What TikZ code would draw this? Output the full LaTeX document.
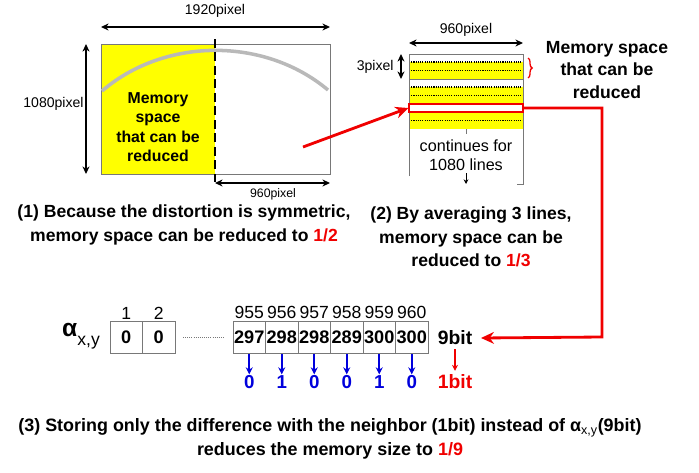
\documentclass[tikz,border=0pt]{standalone}
\usepackage{fontspec}
\setmainfont{Liberation Sans}
\usetikzlibrary{arrows.meta,positioning,calc,decorations.pathreplacing}

\definecolor{hlyellow}{RGB}{255,255,0}
\definecolor{hlred}{RGB}{240,0,0}
\definecolor{bitblue}{RGB}{0,0,220}
\definecolor{framegray}{RGB}{120,120,120}

\begin{document}
\begin{tikzpicture}[%
    x=0.03cm, y=-0.03cm,
    >=Stealth,
    dimarrow/.style={{Stealth[length=6.5pt,width=6pt]}-{Stealth[length=6.5pt,width=6pt]}, line width=0.9pt},
    redline/.style={-{Stealth[length=11pt,width=10pt]}, hlred, line width=2.4pt},
    bluearrow/.style={-{Stealth[length=6pt,width=6pt]}, bitblue, line width=1.5pt, shorten <=1pt},
    lbl/.style={font=\fontsize{12}{14}\selectfont, inner sep=1pt},
    caption/.style={font=\fontsize{15}{20}\selectfont\bfseries, align=center},
    cell/.style={draw=framegray, line width=0.8pt, outer sep=0pt,
      minimum width=0.975cm, minimum height=0.96cm, inner sep=0pt,
      font=\fontsize{15.5}{18}\selectfont\bfseries},
    hdr/.style={font=\fontsize{15}{18}\selectfont, inner sep=1.5pt},
    bit/.style={font=\fontsize{16}{18}\selectfont\bfseries, text=bitblue, inner sep=1pt}
  ]
  \useasboundingbox (0,0) rectangle (699,472);

  % (1) full frame, left half reducible
  \fill[hlyellow] (101,44) rectangle (215,174);
  \draw[framegray, line width=0.8pt] (101,44) rectangle (330,174);
  \draw[gray!55, line width=3pt] (102,91) .. controls (165,37) and (265,37) .. (328,90);
  \draw[line width=1.3pt, dash pattern=on 7.5pt off 4pt] (215,39) -- (215,182);

  \coordinate (fw1) at (101,27);
  \coordinate (fw2) at (330,27);
  \coordinate (fh1) at (86,44);
  \coordinate (fh2) at (86,174);
  \coordinate (hw1) at (215,183);
  \coordinate (hw2) at (330,183);
  \draw[dimarrow] (fw1) -- (fw2);
  \draw[dimarrow] (fh1) -- (fh2);
  \draw[dimarrow] (hw1) -- (hw2);
  \node[lbl] (fwlbl) at (215,11) {1920pixel};
  \node[lbl, anchor=east] (fhlbl) at (85,104) {1080pixel};
  \node[lbl, font=\fontsize{10.5}{12}\selectfont] (hwlbl) at (273,194) {960pixel};
  \node[font=\fontsize{13.5}{16.5}\selectfont\bfseries, align=center] (leftmem)
    at (158,127) {Memory\\space\\that can be\\reduced};

  % (2) line stripes
  \fill[hlyellow] (409,62) rectangle (523,79);
  \fill[hlyellow] (409,87) rectangle (523,104);
  \fill[hlyellow] (409,112) rectangle (523,129);
  \foreach \y in {62,70.5,87,95.5,120.5}
    \draw[densely dotted, line width=0.9pt] (409,\y) -- (523,\y);
  \draw[framegray, line width=0.8pt] (409,176) -- (409,54) -- (523,54) -- (523,184) -- (517,184);
  \draw[framegray, line width=0.8pt] (409,79) -- (523,79);
  \draw[framegray, line width=0.8pt] (466,129) -- (466,134);
  \node[draw=hlred, fill=white, line width=1.2pt, minimum width=3.42cm,
    minimum height=0.24cm, inner sep=0pt] (redrow) at (466,108) {};
  \draw[hlred, line width=1.1pt, decorate, decoration={brace, amplitude=3.5pt}] (528,58) -- (528,78);

  \coordinate (lw1) at (409,43);
  \coordinate (lw2) at (523,43);
  \coordinate (lh1) at (401,54);
  \coordinate (lh2) at (401,79);
  \draw[dimarrow] (lw1) -- (lw2);
  \draw[dimarrow] (lh1) -- (lh2);
  \node[lbl] (lwlbl) at (466,30) {960pixel};
  \node[lbl, anchor=east] (lhlbl) at (395,67) {3pixel};
  \node[font=\fontsize{13.8}{16}\selectfont, align=center] (cont) at (466,155) {continues for\\1080 lines};
  \coordinate (ct1) at (466,173);
  \coordinate (ct2) at (466,184);
  \draw[-{Stealth[length=4pt,width=4pt]}, line width=0.8pt] (ct1) -- (ct2);
  \node[font=\fontsize{15}{19}\selectfont\bfseries, align=center] (rightmem)
    at (607,70) {Memory space\\that can be\\reduced};

  \coordinate (src) at (303,147);
  \draw[redline] (src) -- (redrow.west);

  % captions
  \node[caption] (cap1) at (184,225) {(1) Because the distortion is symmetric,\\memory space can be reduced to \textcolor{hlred}{1/2}};
  \node[caption] (cap2) at (471,237) {(2) By averaging 3 lines,\\memory space can be\\reduced to \textcolor{hlred}{1/3}};

  % (3) stored values
  \node[anchor=base west, inner sep=0pt] (alpha) at (62,336)
    {{\fontsize{21}{24}\selectfont\bfseries α}\raisebox{-8pt}{\fontsize{15}{16}\selectfont x,y}};
  \node[cell] (a1) at (126.25,337) {0};
  \node[cell, right=0pt of a1] (a2) {0};
  \node[hdr, above=0pt of a1] {1};
  \node[hdr, above=0pt of a2] {2};

  \foreach \v [count=\i] in {297,298,298,289,300,300}
    \node[cell] (c\i) at ({216.75+32.5*\i},337) {\v};
  \foreach \h [count=\i] in {955,956,957,958,959,960}
    \node[hdr, above=0pt of c\i] {\h};
  \foreach \b [count=\i] in {0,1,0,0,1,0} {
    \node[bit, below=0.64cm of c\i] (b\i) {\b};
    \draw[bluearrow] (c\i.south) -- (b\i.north);
  }
  \draw[framegray, densely dotted, line width=0.8pt] ([xshift=0.24cm]a2.east) -- ([xshift=-0.24cm]c1.west);

  \node[font=\fontsize{16.5}{18}\selectfont\bfseries] (nine) at (455,338) {9bit};
  \node[font=\fontsize{16.5}{18}\selectfont\bfseries, text=hlred] (one) at (455,382) {1bit};
  \draw[-{Stealth[length=5pt,width=5pt]}, hlred, line width=1.1pt] (nine.south) -- (one.north);

  \coordinate (bend) at (602,337);
  \draw[redline] (redrow.east) -| (bend) -- ([xshift=4pt]nine.east);

  \node[caption, font=\fontsize{15.3}{20.5}\selectfont\bfseries] (cap3) at (330,439)
    {(3) Storing only the difference with the neighbor (1bit) instead of α\textsubscript{\mdseries x,y}(9bit)\\reduces the memory size to \textcolor{hlred}{1/9}};
\end{tikzpicture}
\end{document}
